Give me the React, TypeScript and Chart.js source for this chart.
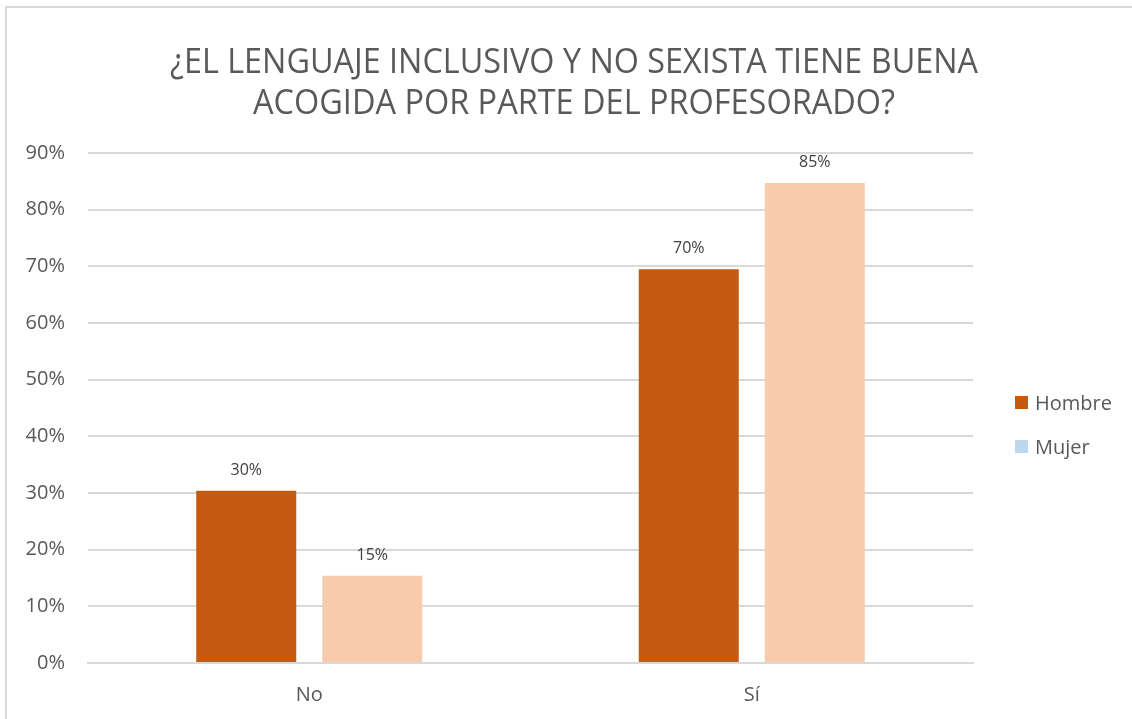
import React, { useEffect, useRef } from "react";
import { Chart, registerables } from "chart.js";

Chart.register(...registerables);

const titleLines = ["¿EL LENGUAJE INCLUSIVO Y NO SEXISTA TIENE BUENA", "ACOGIDA POR PARTE DEL PROFESORADO?"];
const categories = ["No", "Sí"];
const hombre = [30.4, 69.5];
const mujer = [15.4, 84.7];
const seriesNames = ["Hombre", "Mujer"];
const barColors = ["#c55a11", "#f8cbad"];
const legendColors = ["#c55a11", "#bdd7ee"];
const yTicks = [0, 10, 20, 30, 40, 50, 60, 70, 80, 90];

const FONT = "'Open Sans', 'Noto Sans', sans-serif";
const TEXT = "#595959";

const framePlugin = {
  id: "frame",
  beforeDraw(chart: any) {
    const ctx = chart.ctx;
    ctx.save();
    ctx.fillStyle = "#ffffff";
    ctx.fillRect(0, 0, chart.width, chart.height);
    ctx.strokeStyle = "#d9d9d9";
    ctx.lineWidth = 2;
    ctx.strokeRect(6, 7, chart.width + 50, chart.height + 50);
    ctx.restore();
  },
  afterDraw(chart: any) {
    const ctx = chart.ctx;
    ctx.save();
    ctx.fillStyle = TEXT;
    ctx.font = `34px ${FONT}`;
    ctx.textAlign = "center";
    ctx.textBaseline = "alphabetic";
    const cx = 574;
    ctx.fillText(titleLines[0], cx, 73, 808);
    ctx.fillText(titleLines[1], cx, 114, 642);
    ctx.textAlign = "left";
    ctx.font = `20px ${FONT}`;
    const ys = [396, 440];
    seriesNames.forEach((name, i) => {
      ctx.fillStyle = legendColors[i];
      ctx.fillRect(1015, ys[i], 13, 13);
      ctx.fillStyle = TEXT;
      ctx.fillText(name, 1035, ys[i] + 14);
    });
    ctx.restore();
  },
  afterDatasetsDraw(chart: any) {
    const ctx = chart.ctx;
    ctx.save();
    ctx.fillStyle = "#404040";
    ctx.font = `16px ${FONT}`;
    ctx.textAlign = "center";
    ctx.textBaseline = "alphabetic";
    chart.data.datasets.forEach((ds: any, di: number) => {
      const meta = chart.getDatasetMeta(di);
      meta.data.forEach((bar: any, i: number) => {
        ctx.fillText(Math.round(ds.data[i]) + "%", bar.x, bar.y - 16);
      });
    });
    ctx.restore();
  },
};

export default function App() {
  const ref = useRef<HTMLCanvasElement>(null);
  useEffect(() => {
    if (!ref.current) return;
    const chart = new Chart(ref.current, {
      type: "bar",
      data: {
        labels: categories,
        datasets: [
          { label: seriesNames[0], data: hombre, backgroundColor: barColors[0], categoryPercentage: 0.5695, barPercentage: 0.7937 },
          { label: seriesNames[1], data: mujer, backgroundColor: barColors[1], categoryPercentage: 0.5695, barPercentage: 0.7937 },
        ],
      },
      options: {
        responsive: false,
        animation: false,
        layout: { padding: { left: 0, top: 153, right: 159, bottom: 0 } },
        plugins: { legend: { display: false }, title: { display: false }, tooltip: { enabled: false } },
        scales: {
          x: {
            grid: { display: false, drawTicks: false },
            border: { display: true, color: "#d9d9d9", width: 2 },
            ticks: { color: TEXT, font: { family: FONT, size: 20 }, padding: 20 },
            afterFit(scale: any) { scale.height = 56; },
          },
          y: {
            min: 0,
            max: 90,
            afterBuildTicks(scale: any) { scale.ticks = yTicks.map((v) => ({ value: v })); },
            ticks: { color: TEXT, font: { family: FONT, size: 20 }, padding: 23, callback: (v: any) => v + "%" },
            grid: { color: "#d9d9d9", lineWidth: 2, drawTicks: false },
            border: { display: false },
            afterFit(scale: any) { scale.width = 88; },
          },
        },
      },
      plugins: [framePlugin],
    });
    return () => chart.destroy();
  }, []);
  return (
    <div style={{ position: "absolute", left: 0, top: 0, width: 1132, height: 719 }}>
      <canvas ref={ref} width={1132} height={719} style={{ display: "block" }} />
    </div>
  );
}
